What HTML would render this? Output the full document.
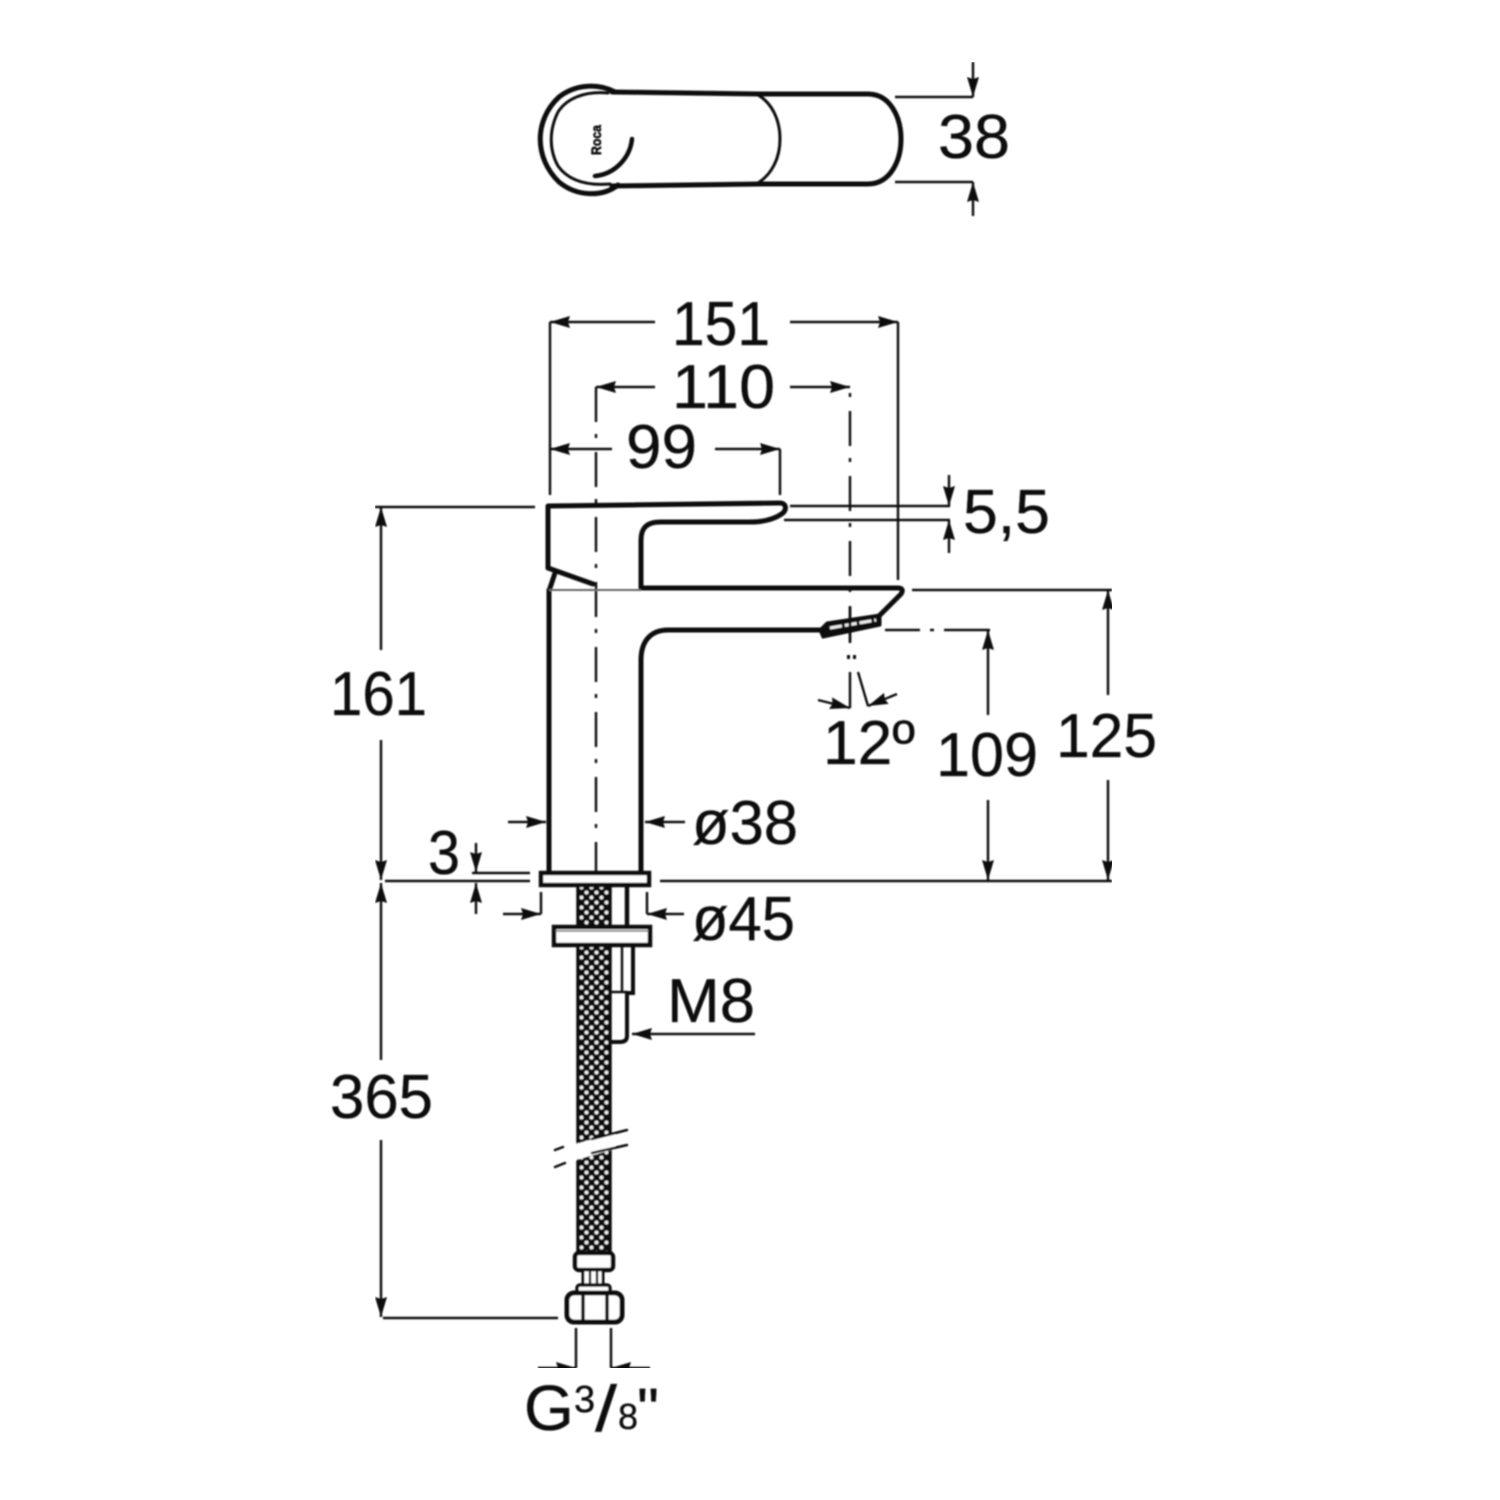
<!DOCTYPE html>
<html><head><meta charset="utf-8"><style>
html,body{margin:0;padding:0;background:#fff}
svg{display:block}
text{font-family:"Liberation Sans",sans-serif;fill:#111;stroke:#111;stroke-width:.35}
</style></head><body>
<svg width="1500" height="1500" viewBox="0 0 1500 1500" xmlns="http://www.w3.org/2000/svg">
<defs>
<marker id="a" viewBox="0 0 20 12" refX="20" refY="6" markerWidth="20" markerHeight="12" markerUnits="userSpaceOnUse" orient="auto-start-reverse"><path d="M0 0L20 6L0 12L2 6Z" fill="#111"/></marker>
<pattern id="h" width="10" height="10" patternUnits="userSpaceOnUse" x="579" y="885"><rect width="10" height="10" fill="#111"/><circle cx="2.5" cy="2.5" r="1.9" fill="#f4f4f4"/><circle cx="7.5" cy="7.5" r="1.9" fill="#f4f4f4"/></pattern>
<filter id="b" x="0" y="0" width="100%" height="100%"><feGaussianBlur stdDeviation="0.7"/></filter>
</defs>
<rect width="1500" height="1500" fill="#fff"/>
<g filter="url(#b)">
<!-- top view -->
<g fill="none" stroke="#111" stroke-linecap="round" stroke-linejoin="round">
<path d="M615 92C600 84 577 83 559 97C534 120 534 158 559 182C577 197 603 197 618 185" stroke-width="5"/>
<path d="M608 93C585 91 567 98 558 112C549 130 549 150 558 166C568 180 585 186 610 184" stroke-width="3"/>
<path d="M612 92L760 94H868C890 94 901 117 901 139C901 161 890 184 868 184H760L612 186" stroke-width="5"/>
<path d="M758 95C772 103 780 120 780 139C780 158 772 174 758 183" stroke-width="3"/>
<path d="M632 139C630 158 615 174 595 176" stroke-width="4.5"/>
</g>
<text transform="translate(601,155) rotate(-90)" font-size="14" font-weight="bold" textLength="30" lengthAdjust="spacingAndGlyphs" style="stroke-width:.6">Roca</text>
<!-- dims thin -->
<g fill="none" stroke="#111" stroke-width="2.4">
<path d="M895 97H973M895 182H973"/>
<path d="M973 62V97" marker-end="url(#a)"/><path d="M973 216V182" marker-end="url(#a)"/>
<path d="M550 322V495M898 322V580M780 449V495"/>
<path d="M655 322H550" marker-end="url(#a)"/><path d="M790 322H898" marker-end="url(#a)"/>
<path d="M655 387H596" marker-end="url(#a)"/><path d="M790 387H850" marker-end="url(#a)"/>
<path d="M612 449H550" marker-end="url(#a)"/><path d="M715 449H780" marker-end="url(#a)"/>
<path d="M596 387V882" stroke-dasharray="35 12 4 14"/>
<path d="M790 506H950M784 520H950"/>
<path d="M949 475V506" marker-end="url(#a)"/><path d="M949 553V520" marker-end="url(#a)"/>
<path d="M375 507H535"/>
<path d="M381 650V507" marker-end="url(#a)"/><path d="M381 740V880" marker-end="url(#a)"/>
<path d="M385 881H530M660 881H1112"/>
<path d="M381 1060V883" marker-end="url(#a)"/><path d="M381 1140V1317" marker-end="url(#a)"/>
<path d="M383 1318H558"/>
<path d="M912 590H1112"/>
<path d="M1108 695V590" marker-end="url(#a)"/><path d="M1108 780V880" marker-end="url(#a)"/>
<path d="M885 630H920M930 630H934M944 630H990"/>
<path d="M988 715V630" marker-end="url(#a)"/><path d="M988 800V880" marker-end="url(#a)"/>
<path d="M472 873H530"/>
<path d="M476 843V872" marker-end="url(#a)"/><path d="M476 914V883" marker-end="url(#a)"/>
<path d="M508 822H546" marker-end="url(#a)"/><path d="M685 822H645" marker-end="url(#a)"/>
<path d="M541 892V914"/><path d="M503 914H541" marker-end="url(#a)"/>
<path d="M647 892V914"/><path d="M684 914H647" marker-end="url(#a)"/>
<path d="M755 1034H632" marker-end="url(#a)"/>
<path d="M850 672V708M858 672L868 706"/>
<path d="M818 700L850 708" marker-end="url(#a)"/><path d="M897 694L868 706" marker-end="url(#a)"/>
<path d="M576 1328V1368M611 1328V1368"/>
<path d="M538 1368H576" marker-end="url(#a)"/><path d="M650 1368H611" marker-end="url(#a)"/>
</g>
<!-- faucet -->
<g fill="none" stroke="#111" stroke-width="5" stroke-linejoin="round" stroke-linecap="round">
<path d="M548 568V506L780 503C786 503 787 509 783 513C775 519 765 522 750 522H660C647 522 641 528 641 540V588"/>
<path d="M548 568L593 584"/>
<path d="M555 573L550 588"/>
<path d="M641 588H898C903 588 903 591 901 594L878 617"/>
<path d="M820 630H668C650 630 641 642 641 660V872"/>
<path d="M549 590V872"/>
<path d="M827 623L880 615V625L823 637L820 630Z" fill="#111" stroke-width="3"/>
</g>
<path d="M549 590H641" stroke="#666" stroke-width="2" fill="none"/>
<path d="M830 628L876 620" stroke="#eee" stroke-width="3" stroke-dasharray="12 3" fill="none"/>
<path d="M850 387V643" stroke="#111" stroke-width="2.4" fill="none" stroke-dasharray="35 12 4 14" stroke-dashoffset="41"/>
<path d="M850 607V643" stroke="#111" stroke-width="2.6" fill="none"/>
<rect x="847" y="655" width="3" height="4" fill="#111"/><rect x="853" y="655" width="3" height="4" fill="#111"/>
<!-- hose -->
<rect x="578" y="885" width="32" height="368" fill="url(#h)" stroke="#111" stroke-width="3.5"/>
<polygon points="572,1145 615,1133 615,1149 572,1161" fill="#fff"/>
<g fill="none" stroke="#111" stroke-width="3.5" stroke-linecap="round">
<path d="M592 1139L627 1130M592 1153L627 1145M555 1150L563 1147M555 1167L565 1163" stroke-width="2.5"/>
<rect x="541" y="873" width="108" height="12" fill="#fff" stroke-width="4.5"/>
<path d="M627 886V926" stroke-width="4.5"/>
<rect x="554" y="927" width="96" height="18" fill="#fff" stroke-width="4.5"/>
<path d="M556 931H648" stroke="#777" stroke-width="1.5"/>
<path d="M633 946V993H627V1036Q627 1042 620 1042H610" stroke-width="4"/>
<path d="M622 946V990M610 992H627" stroke-width="2.4"/>
<!-- fitting -->
<rect x="575" y="1253" width="38" height="17" rx="4" fill="#fff" stroke-width="4.5"/>
<rect x="583" y="1270" width="20" height="16" fill="#fff" stroke-width="3"/>
<path d="M590 1270V1286M597 1270V1286" stroke-width="2.4"/>
<rect x="577" y="1285" width="33" height="8" rx="3" fill="#fff" stroke-width="3.5"/>
<rect x="567" y="1293" width="55" height="29" rx="7" fill="#fff" stroke-width="5"/>
<path d="M583 1294V1321M607 1294V1321" stroke-width="3.5"/>
</g>
</g>
<g font-size="62" filter="url(#b)">
<text x="938" y="158" textLength="72" lengthAdjust="spacingAndGlyphs">38</text>
<text x="672" y="345" textLength="98" lengthAdjust="spacingAndGlyphs">151</text>
<text x="672" y="408" textLength="103" lengthAdjust="spacingAndGlyphs">110</text>
<text x="626" y="468" textLength="71" lengthAdjust="spacingAndGlyphs">99</text>
<text x="963" y="533" textLength="87" lengthAdjust="spacingAndGlyphs">5,5</text>
<text x="330" y="715" textLength="97" lengthAdjust="spacingAndGlyphs">161</text>
<text x="823" y="764" textLength="92" lengthAdjust="spacingAndGlyphs">12º</text>
<text x="936" y="776" textLength="102" lengthAdjust="spacingAndGlyphs">109</text>
<text x="1056" y="757" textLength="101" lengthAdjust="spacingAndGlyphs">125</text>
<text x="692" y="844" textLength="106" lengthAdjust="spacingAndGlyphs">ø38</text>
<text x="428" y="874" textLength="32" lengthAdjust="spacingAndGlyphs">3</text>
<text x="692" y="940" textLength="103" lengthAdjust="spacingAndGlyphs">ø45</text>
<text x="667" y="1022" textLength="88" lengthAdjust="spacingAndGlyphs">M8</text>
<text x="330" y="1118" textLength="103" lengthAdjust="spacingAndGlyphs">365</text>
<text x="524" y="1430" font-size="64">G</text>
<text x="574" y="1412" font-size="38">3</text>
<text x="595" y="1431" font-size="65" textLength="22" lengthAdjust="spacingAndGlyphs">/</text>
<text x="618" y="1429" font-size="36">8</text>
<text x="637" y="1429" font-size="58" textLength="22" lengthAdjust="spacingAndGlyphs">"</text>
</g>
</svg>
</body></html>
